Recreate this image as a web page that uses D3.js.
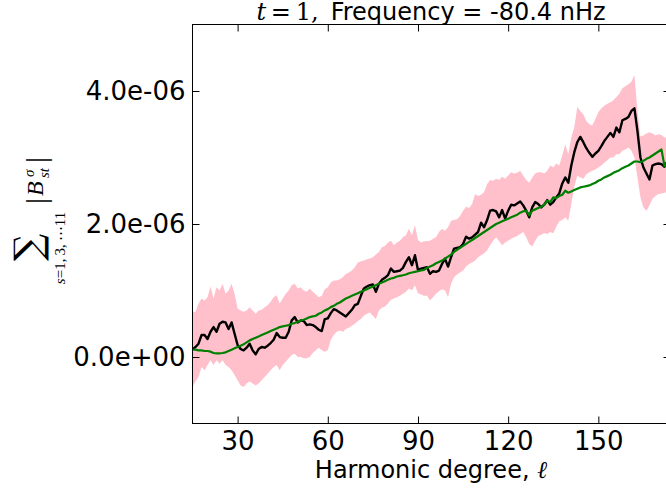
<!DOCTYPE html>
<html><head><meta charset="utf-8">
<script src="https://cdn.jsdelivr.net/npm/d3@7"></script>
<style>body{margin:0;background:#fff}</style>
</head><body><svg id="c" width="666" height="488"></svg>
<script>
// Harmonic degrees (x categories)
const degrees = d3.range(15, 175);
// Values in units of 1e-6
const measured = [
0.12,0.15,0.20,0.33,0.33,0.27,0.38,0.45,0.38,0.50,0.53,0.52,0.42,0.52,0.35,0.18,0.12,0.10,0.14,0.20,0.10,0.04,0.12,0.15,0.14,0.17,0.21,0.26,0.36,0.30,0.29,0.29,0.38,0.55,0.60,0.52,0.55,0.54,0.48,0.49,
0.48,0.45,0.41,0.39,0.57,0.58,0.66,0.72,0.70,0.67,0.64,0.61,0.66,0.71,0.78,0.80,0.92,1.03,1.06,1.08,1.09,0.98,1.10,1.16,1.19,1.23,1.33,1.28,1.29,1.30,1.34,1.43,1.50,1.38,1.53,1.31,1.33,1.34,
1.35,1.25,1.29,1.28,1.30,1.40,1.48,1.36,1.50,1.63,1.64,1.65,1.70,1.81,1.78,1.80,1.84,1.88,2.02,1.95,2.06,2.20,2.21,2.19,2.10,2.21,2.08,2.20,2.29,2.28,2.31,2.34,2.28,2.20,2.10,2.25,2.33,2.30,2.25,2.29,
2.36,2.29,2.33,2.40,2.46,2.61,2.70,2.62,2.88,3.08,3.23,3.31,3.23,3.14,3.07,3.01,3.06,3.10,3.17,3.25,3.31,3.37,3.31,3.45,3.38,3.56,3.58,3.61,3.70,3.74,3.40,3.00,2.85,2.76,2.67,2.88,2.90,2.91,2.90,2.86,2.95,2.98];
const model = [
0.11,0.11,0.10,0.10,0.09,0.09,0.08,0.06,0.055,0.055,0.06,0.07,0.09,0.11,0.13,0.15,0.17,0.19,0.22,0.25,0.27,0.29,0.31,0.33,0.35,0.37,0.39,0.41,0.43,0.45,0.46,0.47,0.48,0.50,0.51,0.53,0.55,0.56,0.58,0.60,
0.61,0.62,0.65,0.67,0.70,0.72,0.75,0.77,0.80,0.82,0.85,0.88,0.90,0.92,0.94,0.96,0.98,1.00,1.02,1.04,1.06,1.08,1.10,1.12,1.14,1.16,1.18,1.19,1.21,1.22,1.23,1.24,1.26,1.27,1.28,1.29,1.30,1.31,
1.34,1.36,1.38,1.41,1.43,1.45,1.48,1.51,1.54,1.58,1.61,1.64,1.67,1.70,1.73,1.76,1.79,1.82,1.85,1.88,1.91,1.94,1.97,2.00,2.02,2.04,2.06,2.08,2.10,2.12,2.14,2.17,2.19,2.20,2.13,2.20,2.22,2.24,2.26,2.29,
2.35,2.33,2.40,2.39,2.42,2.44,2.50,2.47,2.49,2.51,2.53,2.55,2.56,2.57,2.58,2.60,2.62,2.65,2.67,2.70,2.72,2.74,2.77,2.79,2.81,2.84,2.86,2.88,2.91,2.94,2.94,2.93,2.95,2.98,3.00,3.03,3.06,3.09,3.12,2.87,2.92,2.95];
const bandUpper = [
0.68,0.68,0.80,0.88,0.85,0.90,1.06,0.88,1.05,1.00,1.10,0.95,1.00,1.10,0.95,0.73,0.70,0.68,0.70,0.75,0.70,0.65,0.70,0.71,0.75,0.78,0.83,0.90,0.93,0.80,0.88,0.95,1.00,1.08,1.10,1.03,1.05,1.00,0.98,1.03,
0.98,0.94,0.90,0.92,1.02,1.05,1.12,1.15,1.15,1.17,1.20,1.25,1.27,1.30,1.35,1.42,1.44,1.45,1.47,1.48,1.50,1.54,1.58,1.65,1.67,1.72,1.75,1.68,1.72,1.75,1.80,1.83,1.93,1.83,1.98,1.76,1.72,1.74,
1.74,1.75,1.78,1.80,1.88,1.93,1.90,1.95,2.05,2.06,2.07,2.12,2.20,2.26,2.24,2.30,2.45,2.42,2.44,2.48,2.60,2.66,2.65,2.68,2.66,2.71,2.68,2.73,2.78,2.76,2.77,2.80,2.73,2.66,2.62,2.70,2.76,2.78,2.78,2.76,
2.80,2.88,2.85,2.91,2.88,3.03,3.20,3.05,3.30,3.46,3.76,3.70,3.65,3.55,3.50,3.48,3.58,3.68,3.74,3.78,3.81,3.83,3.86,3.91,3.96,4.04,4.07,4.10,4.14,4.24,3.70,3.32,3.33,3.36,3.38,3.36,3.33,3.35,3.34,3.30,3.30,3.30];
const bandLower = [
-0.45,-0.37,-0.30,-0.15,-0.20,-0.12,-0.05,-0.12,-0.05,-0.10,-0.05,-0.12,-0.15,-0.20,-0.27,-0.35,-0.43,-0.45,-0.40,-0.37,-0.40,-0.43,-0.40,-0.35,-0.30,-0.25,-0.20,-0.15,-0.12,-0.20,-0.12,-0.07,-0.02,0.03,0.05,0.00,0.00,-0.02,-0.02,0.00,
0.06,0.10,0.14,0.10,0.08,0.10,0.26,0.33,0.38,0.40,0.38,0.42,0.44,0.47,0.50,0.54,0.57,0.62,0.65,0.67,0.62,0.57,0.70,0.74,0.76,0.80,0.86,0.88,0.90,0.92,0.95,0.98,1.03,1.00,1.08,0.96,0.94,0.92,
0.92,0.85,0.90,0.95,0.99,1.02,1.00,0.90,1.10,1.20,1.24,1.27,1.30,1.36,1.40,1.42,1.45,1.50,1.53,1.56,1.60,1.68,1.75,1.80,1.74,1.68,1.72,1.75,1.78,1.80,1.82,1.85,1.88,1.80,1.70,1.66,1.75,1.82,1.84,1.86,
1.85,1.88,1.86,1.96,2.04,2.06,2.10,2.05,2.30,2.56,2.73,2.70,2.68,2.75,2.78,2.80,2.82,2.85,2.88,2.92,2.96,3.00,3.00,3.05,3.05,3.10,3.12,3.15,3.10,3.00,2.70,2.40,2.25,2.20,2.28,2.38,2.42,2.45,2.46,2.47,2.48,2.48];
const unit = 1e-6;
const xTicks = [30, 60, 90, 120, 150];
const yTicks = [0, 2e-6, 4e-6];
const xDomain = [15, 174];
const yDomain = [-1e-6, 5e-6];

const rows = degrees.map((l, i) => ({l, m: measured[i]*unit, g: model[i]*unit, hi: bandUpper[i]*unit, lo: bandLower[i]*unit}));

const L = 192.5, R = 670.5, T = 24.5, B = 423.5;
const svg = d3.select('#c');
const x = d3.scaleLinear().domain(xDomain).range([L, R]);
const y = d3.scaleLinear().domain(yDomain).range([B, T]);

svg.append('defs').append('clipPath').attr('id','clip')
  .append('rect').attr('x', L).attr('y', T).attr('width', R-L).attr('height', B-T);

const plot = svg.append('g').attr('clip-path','url(#clip)');
plot.append('path').datum(rows)
  .attr('d', d3.area().x(d => x(d.l)).y0(d => y(d.lo)).y1(d => y(d.hi)))
  .attr('fill', 'pink').attr('stroke', 'none');
plot.append('path').datum(rows)
  .attr('d', d3.line().x(d => x(d.l)).y(d => y(d.m)))
  .attr('fill','none').attr('stroke','black').attr('stroke-width',2.4).attr('stroke-linejoin','round');
plot.append('path').datum(rows)
  .attr('d', d3.line().x(d => x(d.l)).y(d => y(d.g)))
  .attr('fill','none').attr('stroke','green').attr('stroke-width',2.2).attr('stroke-linejoin','round');

function fmt(v){
  if (v === 0) return '0.0e+00';
  const [m, e] = v.toExponential(1).split('e');
  const sign = e[0] === '-' ? '-' : '+';
  return m + 'e' + sign + String(Math.abs(+e)).padStart(2, '0');
}
const tickFont = 'DejaVu Sans';
function styleAxis(g){
  g.select('.domain').remove();
  g.selectAll('.tick line').attr('stroke','black').attr('stroke-width',1);
  g.selectAll('.tick text').attr('fill','black').style('font-family', tickFont).style('font-size','26px');
}
svg.append('g').attr('transform',`translate(0,${B})`)
  .call(d3.axisBottom(x).tickValues(xTicks).tickSizeInner(-7).tickSizeOuter(0).tickPadding(8).tickFormat(d3.format('d')))
  .call(styleAxis);
svg.append('g').attr('transform',`translate(0,${T})`)
  .call(d3.axisTop(x).tickValues(xTicks).tickSizeInner(-7).tickSizeOuter(0).tickFormat(() => ''))
  .call(styleAxis);
svg.append('g').attr('transform',`translate(${L},0)`)
  .call(d3.axisLeft(y).tickValues(yTicks).tickSizeInner(-7).tickSizeOuter(0).tickPadding(7).tickFormat(fmt))
  .call(styleAxis);
svg.append('g').attr('transform',`translate(${R},0)`)
  .call(d3.axisRight(y).tickValues(yTicks).tickSizeInner(-7).tickSizeOuter(0).tickFormat(() => ''))
  .call(styleAxis);

svg.append('rect').attr('x', L).attr('y', T).attr('width', R-L).attr('height', B-T)
  .attr('fill','none').attr('stroke','black').attr('stroke-width',1);

// Title
const title = svg.append('text').attr('x', 431).attr('y', 20).attr('text-anchor','middle')
  .style('font-size','24px').attr('fill','black');
title.append('tspan').style('font-family','DejaVu Serif').style('font-style','italic').text('t');
title.append('tspan').style('font-family','DejaVu Serif').text('\u2009=\u20091,\u2002');
title.append('tspan').style('font-family','DejaVu Sans').text('Frequency = -80.4 nHz');

// X label
const xl = svg.append('text').attr('x', 431).attr('y', 478).attr('text-anchor','middle')
  .style('font-size','24px').style('font-family','DejaVu Sans').attr('fill','black');
xl.append('tspan').text('Harmonic degree, ');
xl.append('tspan').style('font-family','DejaVu Serif').style('font-style','italic').text('\u2113');

// Y label (math)
const yl = svg.append('g').attr('transform','translate(47,225) rotate(-90)')
  .style('font-family','Liberation Serif').attr('fill','black');
yl.append('text').attr('x',-22.5).attr('y',-6).attr('text-anchor','middle')
  .style('font-family','DejaVu Serif').style('font-size','38px').text('\u2211');
const sub = yl.append('text').attr('x',-23).attr('y',18).attr('text-anchor','middle').style('font-size','15px');
sub.append('tspan').style('font-style','italic').text('s');
sub.append('tspan').text('=1,\u20093,\u2009\u22EF11');
yl.append('text').attr('x',21).attr('y',-1).style('font-size','30px').text('|');
yl.append('text').attr('x',29).attr('y',-4).style('font-size','24px').style('font-style','italic').text('B');
yl.append('text').attr('x',48).attr('y',-13).style('font-size','15px').style('font-style','italic').text('\u03C3');
yl.append('text').attr('x',47).attr('y',2).style('font-size','15px').style('font-style','italic').text('st');
yl.append('text').attr('x',62).attr('y',-1).style('font-size','30px').text('|');
</script></body></html>
